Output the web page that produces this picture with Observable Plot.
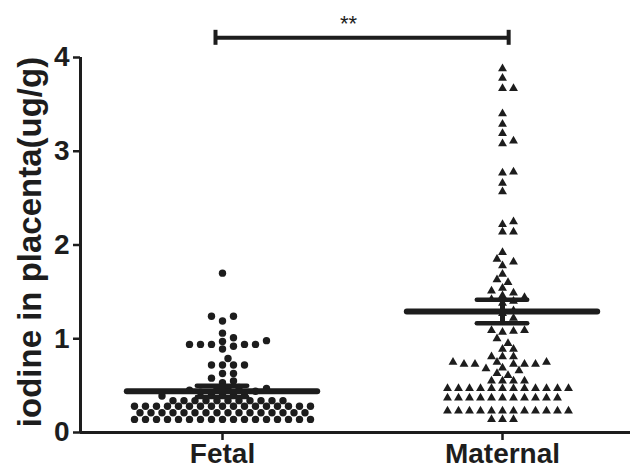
<!DOCTYPE html>
<html><head><meta charset="utf-8">
<script src="https://cdn.jsdelivr.net/npm/d3@7"></script>
<script src="https://cdn.jsdelivr.net/npm/@observablehq/plot@0.6"></script>
<style>body{margin:0;background:#fff} svg{display:block}</style>
</head><body><div id="chart"></div>
<script>
// ---- data ----
const groups = ["Fetal", "Maternal"];
const fetalValues = [
  1.70, 1.24, 1.24, 1.19, 1.06, 1.01, 0.98, 0.97, 0.94, 0.94, 0.94, 0.94, 0.94, 0.92, 0.89,
  0.79, 0.72, 0.72, 0.72, 0.72, 0.63, 0.63, 0.58, 0.55, 0.53,
  0.48, 0.47, 0.47, 0.46, 0.45, 0.44, 0.43, 0.42, 0.41, 0.40, 0.40, 0.39,
  0.34, 0.34, 0.34, 0.34, 0.34, 0.34, 0.34, 0.34, 0.34, 0.34, 0.34,
  0.28, 0.28, 0.28, 0.28, 0.28, 0.28, 0.28, 0.28, 0.28, 0.28, 0.28, 0.28, 0.28, 0.28, 0.28, 0.28, 0.28,
  0.21, 0.21, 0.21, 0.21, 0.21, 0.21, 0.21, 0.21, 0.21, 0.21, 0.21, 0.21, 0.21, 0.21, 0.21, 0.21,
  0.14, 0.14, 0.14, 0.14, 0.14, 0.14, 0.14, 0.14, 0.14, 0.14, 0.14, 0.14, 0.14, 0.14, 0.14, 0.14, 0.14
];
const maternalValues = [
  3.88, 3.78, 3.67, 3.67, 3.40, 3.29, 3.19, 3.11, 3.08, 2.78, 2.77, 2.66, 2.57, 2.25, 2.22, 2.14, 2.14,
  1.92, 1.85, 1.82, 1.78, 1.69, 1.63, 1.60, 1.54, 1.51, 1.49, 1.46,
  1.44, 1.42, 1.40, 1.38, 1.30, 1.27, 1.22, 1.18,
  1.09, 1.09, 1.08, 1.07, 1.00, 0.95, 0.89, 0.89,
  0.81, 0.81, 0.81, 0.75, 0.75, 0.75, 0.73, 0.73, 0.73, 0.73, 0.73, 0.69, 0.68, 0.66, 0.63, 0.61,
  0.55, 0.55, 0.55, 0.55,
  0.47, 0.47, 0.47, 0.47, 0.47, 0.47, 0.47, 0.47, 0.47, 0.47, 0.47, 0.47,
  0.37, 0.37, 0.37, 0.37, 0.37, 0.37, 0.37, 0.37, 0.37, 0.37, 0.37,
  0.23, 0.23, 0.23, 0.23, 0.23, 0.23, 0.23, 0.23, 0.23, 0.23, 0.23, 0.23,
  0.14, 0.14, 0.14
];
const groupMeans = [0.44, 1.29];
const groupSEM = [0.06, 0.125];
const yTicks = [0, 1, 2, 3, 4];
const yLabel = "iodine in placenta(ug/g)";
const sigLabel = "**";

// ---- layout ----
const W = 633, H = 469;
const mL = 80, mR = 3, mT = 57, mB = 37;
const xDomain = [-142 / 280, 408 / 280];
const yDomain = [0, 4];
const pxPerX = (W - mL - mR) / (xDomain[1] - xDomain[0]);
const pxPerY = (H - mT - mB) / (yDomain[1] - yDomain[0]);
const stepPx = 11, minDist = 7.3;

// Prism-like scatter: greedy placement on a half-step grid
function swarm(values, gi) {
  const sorted = values.map((v, k) => ({v, k})).sort((a, b) => a.v - b.v);
  const placed = [];
  const cands = [0];
  for (let s = 0.5; s <= 12; s += 0.5) cands.push(s, -s);
  for (const {v} of sorted) {
    const py = v * pxPerY;
    for (const c of cands) {
      const px = c * stepPx;
      if (placed.every(p => Math.hypot(p.px - px, p.py - py) >= minDist)) {
        placed.push({px, py, v});
        break;
      }
    }
  }
  return placed.map(p => ({group: groups[gi], value: p.v, x: gi + p.px / pxPerX}));
}
const fetalPts = swarm(fetalValues, 0);
const maternalPts = swarm(maternalValues, 1);
const stats = groups.map((g, i) => ({i, mean: groupMeans[i], sem: groupSEM[i]}));

const ink = "#1d1d1d";
const font = "'Liberation Sans', Arial, Helvetica, sans-serif";

const chart = Plot.plot({
  width: W, height: H,
  marginLeft: mL, marginRight: mR, marginTop: mT, marginBottom: mB,
  x: {domain: xDomain},
  y: {domain: yDomain},
  style: {fontFamily: font, color: ink, background: "#fff"},
  marks: [
    Plot.dot(fetalPts, {x: "x", y: "value", r: 3.7, fill: ink, symbol: "circle"}),
    Plot.dot(maternalPts, {x: "x", y: "value", r: 3.3, fill: ink, symbol: "triangle"}),
    // mean lines
    Plot.ruleY(stats, {y: "mean", x1: d => d.i - 0.34, x2: d => d.i + 0.34, stroke: ink, strokeWidth: 6, strokeLinecap: "round"}),
    // SEM
    Plot.ruleX(stats, {x: "i", y1: d => d.mean - d.sem, y2: d => d.mean + d.sem, stroke: ink, strokeWidth: 5}),
    Plot.ruleY(stats, {y: d => d.mean + d.sem, x1: d => d.i - 0.09, x2: d => d.i + 0.09, stroke: ink, strokeWidth: 4.5, strokeLinecap: "round"}),
    Plot.ruleY(stats, {y: d => d.mean - d.sem, x1: d => d.i - 0.09, x2: d => d.i + 0.09, stroke: ink, strokeWidth: 4.5, strokeLinecap: "round"}),
    // axes lines
    Plot.ruleX([xDomain[0]], {y1: 0, y2: 4, stroke: ink, strokeWidth: 3}),
    Plot.ruleY([0], {x1: xDomain[0], x2: xDomain[1], stroke: ink, strokeWidth: 3}),
    Plot.axisY({ticks: yTicks, tickFormat: d3.format("d"), tickSize: 7, tickPadding: 4, fontSize: 28, fontWeight: "bold", stroke: ink, strokeWidth: 2.5, label: null}),
    Plot.axisX({ticks: [0, 1], tickFormat: i => groups[i], tickSize: 8, tickPadding: 3, fontSize: 28, fontWeight: "bold", stroke: ink, strokeWidth: 2.5, label: null}),
    // y title
    Plot.text([yLabel], {frameAnchor: "left", textAnchor: "middle", lineAnchor: "middle", dx: -50, dy: -3, rotate: -90, fontSize: 33, fontWeight: "bold", fill: ink}),
    // significance bracket
    Plot.ruleY([4.21], {x1: -0.025, x2: 1.022, stroke: ink, strokeWidth: 4}),
    Plot.ruleX([-0.025, 1.022], {y1: 4.13, y2: 4.29, stroke: ink, strokeWidth: 4}),
    Plot.text([sigLabel], {x: 0.45, y: 4.36, fontSize: 22, fill: ink})
  ]
});
document.getElementById("chart").appendChild(chart);
</script>
</body></html>
